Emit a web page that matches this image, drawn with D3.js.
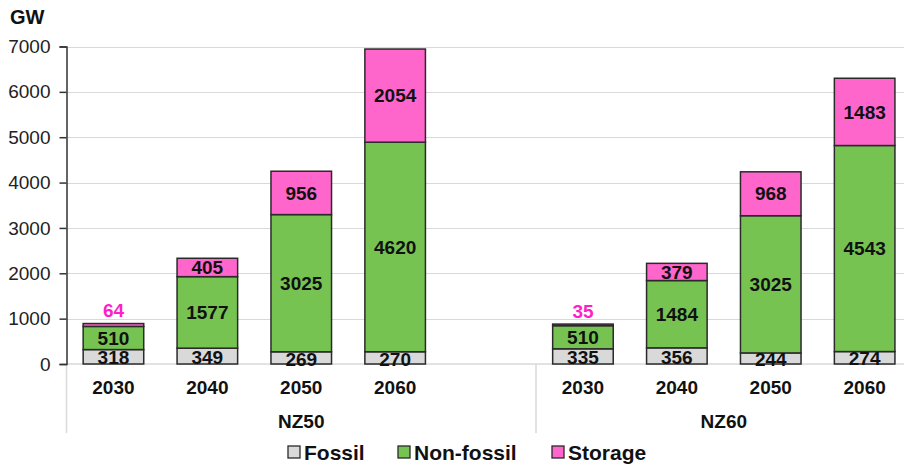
<!DOCTYPE html>
<html>
<head>
<meta charset="utf-8">
<script src="https://cdn.jsdelivr.net/npm/d3@7"></script>
<style>
  html, body { margin: 0; padding: 0; background: #fff; }
  svg { display: block; font-family: "Liberation Sans", Arial, sans-serif; }
</style>
</head>
<body>
<svg id="chart" width="904" height="467"></svg>
<script>
// Installed capacity (GW) by scenario and year
const scenarios = ["NZ50", "NZ60"];
const years = ["2030", "2040", "2050", "2060"];
const seriesNames = ["Fossil", "Non-fossil", "Storage"];
const fossil    = { NZ50: [318, 349, 269, 270],   NZ60: [335, 356, 244, 274] };
const nonFossil = { NZ50: [510, 1577, 3025, 4620], NZ60: [510, 1484, 3025, 4543] };
const storage   = { NZ50: [64, 405, 956, 2054],   NZ60: [35, 379, 968, 1483] };
const yTicks = [0, 1000, 2000, 3000, 4000, 5000, 6000, 7000];
const yUnit = "GW";

const colors = { "Fossil": "#d9d9d9", "Non-fossil": "#77c352", "Storage": "#ff66cc" };
const seriesData = { "Fossil": fossil, "Non-fossil": nonFossil, "Storage": storage };

// One row per bar
const rows = [];
scenarios.forEach(s => years.forEach((y, i) => {
  const r = { key: s + "-" + y, scenario: s, year: y };
  seriesNames.forEach(n => r[n] = seriesData[n][s][i]);
  rows.push(r);
}));

// Slots: first scenario's years, a spacer slot, then second scenario's years
const slots = [];
scenarios.forEach((s, si) => {
  years.forEach(y => slots.push(s + "-" + y));
  if (si < scenarios.length - 1) slots.push(s + "-gap");
});

const svg = d3.select("#chart");
const W = 904;
const left = 66.5, step = 93.9;
const x = d3.scaleBand().domain(slots)
  .range([left, left + step * slots.length])
  .paddingInner(0.355).paddingOuter(0.1775);
const y = d3.scaleLinear().domain([0, 7000]).range([364, 46.5]);

// Gridlines
svg.append("g").selectAll("line").data(yTicks.filter(d => d > 0)).join("line")
  .attr("x1", left).attr("x2", W)
  .attr("y1", d => Math.round(y(d)) + 0.5).attr("y2", d => Math.round(y(d)) + 0.5)
  .attr("stroke", "#d9d9d9").attr("stroke-width", 1.2);

// Baseline and category separators
const axisBottom = 433;
svg.append("line").attr("x1", left).attr("x2", W).attr("y1", y(0)).attr("y2", y(0))
  .attr("stroke", "#d9d9d9").attr("stroke-width", 1.5);
const seps = [left, x("NZ60-2030") - x.step() * x.paddingInner() / 2 ];
svg.append("g").selectAll("line").data(seps).join("line")
  .attr("x1", d => d).attr("x2", d => d).attr("y1", y(0)).attr("y2", axisBottom)
  .attr("stroke", "#d9d9d9").attr("stroke-width", 1.5);

// Y axis
const yAxis = svg.append("g").attr("transform", `translate(${left},0)`)
  .call(d3.axisLeft(y).tickValues(yTicks).tickSize(7).tickPadding(9).tickFormat(d3.format("d")));
yAxis.select(".domain").attr("stroke", "#333").attr("stroke-width", 1.5);
yAxis.selectAll(".tick line").attr("stroke", "#333").attr("stroke-width", 1.5);
yAxis.selectAll(".tick text").attr("font-size", 19).attr("fill", "#222")
  .attr("font-family", "Liberation Sans, Arial, sans-serif");

svg.append("text").attr("x", 10).attr("y", 24).text(yUnit)
  .attr("font-size", 20).attr("font-weight", "bold").attr("fill", "#111");

// Stacked bars
const stack = d3.stack().keys(seriesNames)(rows);
const layers = svg.append("g").selectAll("g").data(stack).join("g")
  .attr("fill", d => colors[d.key]);
layers.selectAll("rect").data(d => d).join("rect")
  .attr("x", d => x(d.data.key))
  .attr("width", x.bandwidth())
  .attr("y", d => y(d[1]))
  .attr("height", d => y(d[0]) - y(d[1]))
  .attr("stroke", "#2a2a2a").attr("stroke-width", 1.5);

// Value labels; very thin top segments get their label above the bar
const labels = svg.append("g").attr("font-weight", "bold").attr("font-size", 19)
  .attr("text-anchor", "middle");
stack.forEach(layer => {
  layer.forEach(d => {
    const v = d[1] - d[0];
    const h = y(d[0]) - y(d[1]);
    const cx = x(d.data.key) + x.bandwidth() / 2;
    const outside = layer.key === "Storage" && h < 8;
    const cy = layer.key === "Fossil" ? (y(d[0]) + y(d[1])) / 2 + 1 : (y(d[0]) + y(d[1])) / 2;
    labels.append("text")
      .attr("x", cx)
      .attr("y", outside ? y(d[1]) - 13 : cy)
      .attr("dy", "0.35em")
      .attr("fill", outside ? "#ff1fc8" : "#111")
      .text(v);
  });
});

// Year labels
svg.append("g").selectAll("text").data(rows).join("text")
  .attr("x", d => x(d.key) + x.bandwidth() / 2).attr("y", 387).attr("dy", "0.36em")
  .attr("text-anchor", "middle").attr("font-weight", "bold").attr("font-size", 19)
  .attr("fill", "#111").text(d => d.year);

// Scenario labels centred over their slot spans
const spanCenter = s => {
  const own = slots.filter(k => k.startsWith(s + "-"));
  const a = x(own[0]) - x.step() * x.paddingInner() / 2;
  const b = x(own[own.length - 1]) + x.bandwidth() + x.step() * x.paddingInner() / 2;
  return (a + b) / 2;
};
svg.append("g").selectAll("text").data(scenarios).join("text")
  .attr("x", d => spanCenter(d)).attr("y", 421).attr("dy", "0.36em")
  .attr("text-anchor", "middle").attr("font-weight", "bold").attr("font-size", 19)
  .attr("fill", "#111").text(d => d);

// Legend
const legendX = [288, 398, 552];
const legend = svg.append("g").selectAll("g").data(seriesNames).join("g")
  .attr("transform", (d, i) => `translate(${legendX[i]},452)`);
legend.append("rect").attr("x", 0).attr("y", -6).attr("width", 12).attr("height", 12)
  .attr("fill", d => colors[d]).attr("stroke", "#2a2a2a").attr("stroke-width", 1.3);
legend.append("text").attr("x", 16).attr("y", 0).attr("dy", "0.36em")
  .attr("font-weight", "bold").attr("font-size", 21).attr("fill", "#111").text(d => d);
</script>
</body>
</html>
